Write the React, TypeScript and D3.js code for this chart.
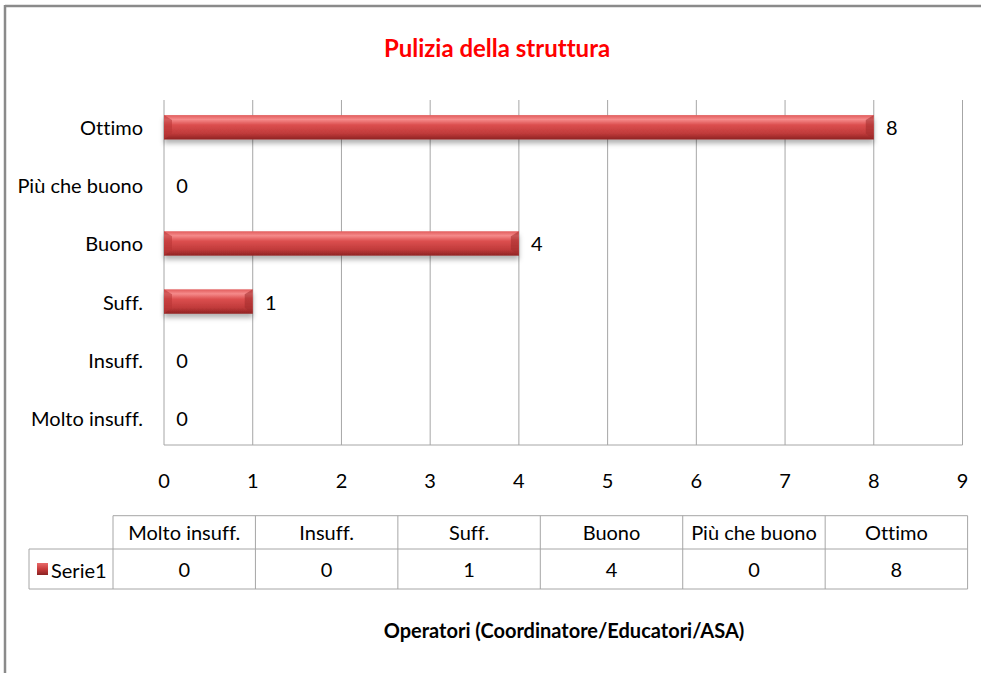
import React from "react";
import * as d3 from "d3";

const categories = ["Molto insuff.", "Insuff.", "Suff.", "Buono", "Più che buono", "Ottimo"];
const values = [0, 0, 1, 4, 0, 8];
const xTicks = [0, 1, 2, 3, 4, 5, 6, 7, 8, 9];
const seriesName = "Serie1";
const title = "Pulizia della struttura";
const axisTitle = "Operatori (Coordinatore/Educatori/ASA)";

const W = 981;
const H = 673;
const FONT = "Lato, 'Open Sans', sans-serif";
const FS = 20;

export default function App() {
  const plot = { left: 164, right: 962.5, top: 100, bottom: 445 };
  const x = d3.scaleLinear().domain([0, 9]).range([plot.left, plot.right]);
  const yOrder = [...categories].reverse();
  const y = d3.scaleBand().domain(yOrder).range([plot.top, plot.bottom]).paddingInner(0.58).paddingOuter(0.26);

  const table = { left: 113, right: 967.6, top: 515.7, mid: 549, bottom: 589, legendLeft: 29 };
  const colX = d3.scaleBand().domain(categories).range([table.left, table.right]);

  return (
    <svg
      width={W}
      height={H}
      style={{ position: "absolute", left: 0, top: 0, background: "#fff", fontVariantLigatures: "none" }}
      fontFamily={FONT}
    >
      <defs>
        <linearGradient id="barGrad" x1="0" y1="0" x2="0" y2="1">
          <stop offset="0" stopColor="#e15b5b" />
          <stop offset="0.18" stopColor="#f58a8a" />
          <stop offset="0.4" stopColor="#dc4f4f" />
          <stop offset="0.75" stopColor="#c03a3a" />
          <stop offset="1" stopColor="#8e2424" />
        </linearGradient>
        <linearGradient id="keyGrad" x1="0" y1="0" x2="0" y2="1">
          <stop offset="0" stopColor="#e86a6a" />
          <stop offset="0.5" stopColor="#c83b3b" />
          <stop offset="1" stopColor="#8a2222" />
        </linearGradient>
        <filter id="shadow" x="-5%" y="-50%" width="110%" height="220%">
          <feDropShadow dx="0" dy="4" stdDeviation="2.5" floodColor="#000" floodOpacity="0.3" />
        </filter>
      </defs>

      <line x1={5} y1={6} x2={W} y2={6} stroke="#8a8a8a" strokeWidth={2.5} />
      <line x1={5} y1={5} x2={5} y2={H} stroke="#8a8a8a" strokeWidth={2.5} />

      <text x={497} y={57} textAnchor="middle" fill="#ff0000" fontSize={24} fontWeight="bold">
        {title}
      </text>

      {xTicks.map((t) => (
        <line key={t} x1={x(t)} x2={x(t)} y1={plot.top} y2={plot.bottom} stroke="#a6a6a6" strokeWidth={1} />
      ))}
      <line x1={plot.left} x2={plot.right} y1={plot.bottom} y2={plot.bottom} stroke="#a6a6a6" strokeWidth={1} />

      {xTicks.map((t) => (
        <text key={t} x={x(t)} y={488} textAnchor="middle" fontSize={FS} fill="#000">
          {t}
        </text>
      ))}

      {yOrder.map((c) => (
        <text key={c} x={143} y={(y(c) as number) + y.bandwidth() / 2 + 8} textAnchor="end" fontSize={FS} fill="#000">
          {c}
        </text>
      ))}

      {categories.map((c, i) => {
        const v = values[i];
        const by = y(c) as number;
        const bh = y.bandwidth();
        const w = x(v) - x(0);
        return (
          <g key={c}>
            {v > 0 && (
              <g filter="url(#shadow)">
                <rect x={x(0)} y={by} width={w} height={bh} fill="url(#barGrad)" />
                <polygon points={`${x(0)},${by} ${x(0) + 8},${by + 5} ${x(0) + 8},${by + bh - 6} ${x(0)},${by + bh}`} fill="#b83434" opacity={0.55} />
                <polygon points={`${x(v)},${by} ${x(v) - 8},${by + 5} ${x(v) - 8},${by + bh - 6} ${x(v)},${by + bh}`} fill="#a02c2c" opacity={0.55} />
              </g>
            )}
            <text x={x(v) + 18} y={by + bh / 2 + 8} textAnchor="middle" fontSize={FS} fill="#000">
              {v}
            </text>
          </g>
        );
      })}

      <g stroke="#a6a6a6" strokeWidth={1} fill="none">
        <line x1={table.left} x2={table.right} y1={table.top} y2={table.top} />
        <line x1={table.legendLeft} x2={table.right} y1={table.mid} y2={table.mid} />
        <line x1={table.legendLeft} x2={table.right} y1={table.bottom} y2={table.bottom} />
        <line x1={table.legendLeft} x2={table.legendLeft} y1={table.mid} y2={table.bottom} />
        {categories.map((c) => (
          <line key={c} x1={colX(c) as number} x2={colX(c) as number} y1={table.top} y2={table.bottom} />
        ))}
        <line x1={table.right} x2={table.right} y1={table.top} y2={table.bottom} />
      </g>
      {categories.map((c, i) => (
        <g key={c}>
          <text x={(colX(c) as number) + colX.bandwidth() / 2} y={table.mid - 9} textAnchor="middle" fontSize={FS} fill="#000">
            {c}
          </text>
          <text x={(colX(c) as number) + colX.bandwidth() / 2} y={table.bottom - 12} textAnchor="middle" fontSize={FS} fill="#000">
            {values[i]}
          </text>
        </g>
      ))}
      <rect x={37} y={563} width={11} height={12} fill="url(#keyGrad)" />
      <text x={51} y={578} fontSize={FS} fill="#000">
        {seriesName}
      </text>

      <text x={564} y={638} textAnchor="middle" fontSize={20} fontWeight="bold" fill="#000">
        {axisTitle}
      </text>
    </svg>
  );
}
